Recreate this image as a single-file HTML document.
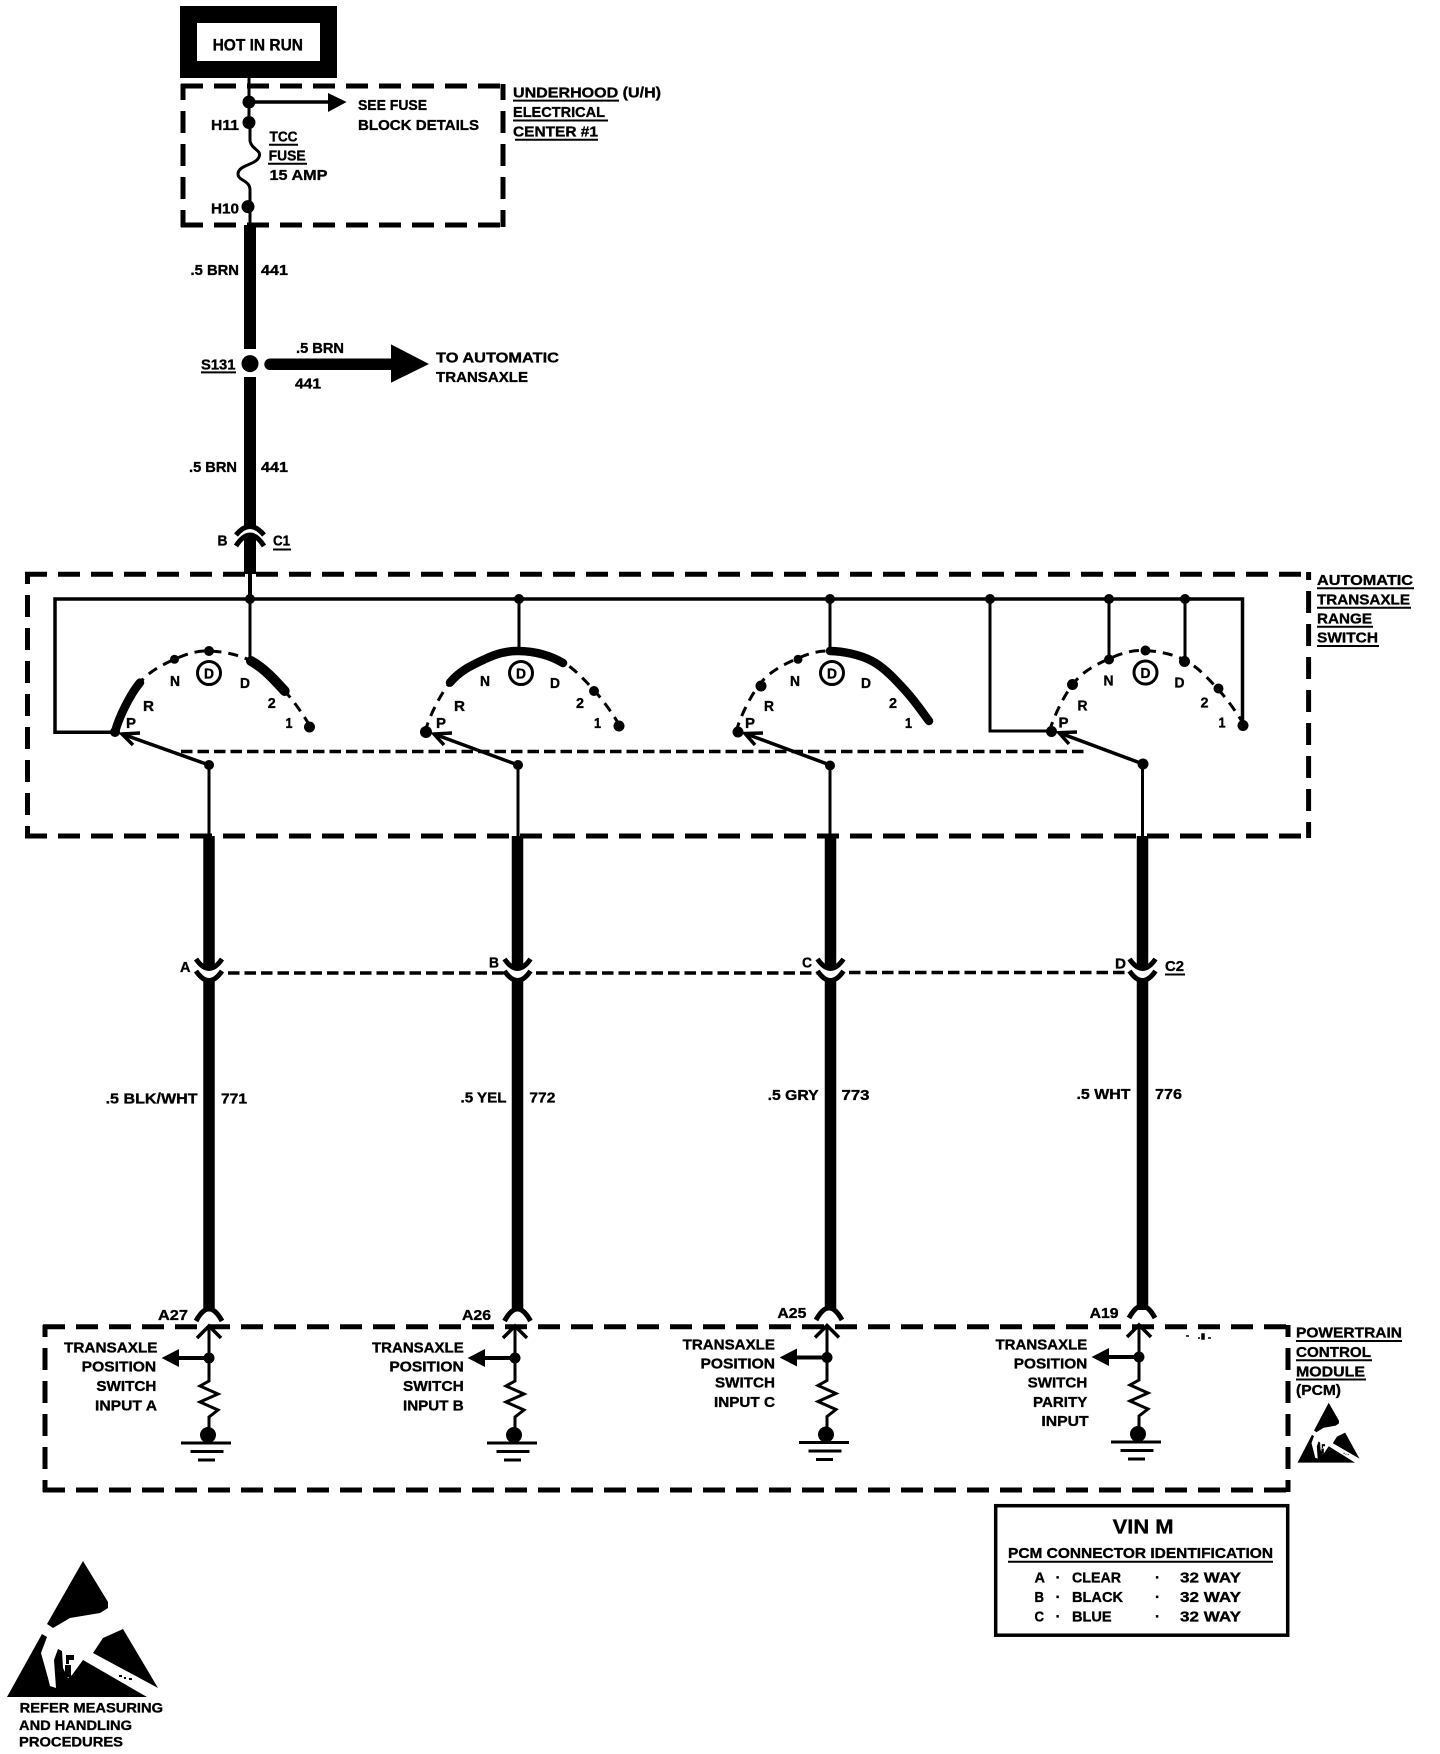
<!DOCTYPE html>
<html><head><meta charset="utf-8"><style>
html,body{margin:0;padding:0;background:#fff}
svg{display:block}
text{font-family:"Liberation Sans",sans-serif;font-weight:bold;font-size:15px;fill:#000;stroke:#000;stroke-width:.35px}
.u{stroke:#000;stroke-width:2;fill:none}
.d{stroke:#000;stroke-width:5;stroke-dasharray:22 11;fill:none}
.w{stroke:#000;stroke-width:12;fill:none}
.t{stroke:#000;stroke-width:3;fill:none}
.arc{stroke:#000;stroke-width:3;stroke-dasharray:10 7;fill:none}
.th{stroke:#000;stroke-width:8.5;fill:none;stroke-linecap:round}
.c{stroke:#000;stroke-width:5;fill:none}
.m{stroke:#000;stroke-width:3.5;stroke-dasharray:11.5 5;fill:none}
</style></head><body>
<svg xmlns="http://www.w3.org/2000/svg" width="1440" height="1754" viewBox="0 0 1440 1754">
<defs>
<path id="full" d="M-94 81C-90 66-79 43.7-69 31.6C-59 19.5-46 13.6-34.5 8.3C-23 3-12.8-.3 0 0C12.8.3 29.4 3.3 42 10C54.6 16.7 65.9 29.2 75.7 40C85.5 50.8 95 65 101 75"/>
<g id="col">
<path class="t" d="M0 1327V1358"/>
<path d="M-12 1338L0 1326L12 1338" stroke="#000" stroke-width="3.5" fill="none"/>
<circle cx="0" cy="1358" r="5.5"/>
<path d="M0 1358H-32" stroke="#000" stroke-width="4"/>
<path d="M-47.4 1358L-30 1349V1367Z"/>
<path class="t" d="M0 1358V1381L-9 1386L9 1394L-9 1402L9 1410L0 1417V1435"/>
<ellipse cx="-1" cy="1435" rx="8" ry="8"/>
<path d="M-28 1443H22M-18.5 1451.5H14.5M-11 1460H6" stroke="#000" stroke-width="3"/>
</g>
<g id="esd">
<path d="M83 1561L108 1602L108 1608L100 1613L70 1618L53 1628L47 1624Z"/>
<path d="M42 1634L47 1637L41 1653L48 1678L50 1686L56 1688L54 1660L58 1649L62 1651L63 1668L68 1678L72 1675L83 1660L147 1697L7 1697Z"/>
<path d="M66 1655H74V1660H69V1664H66ZM65 1665H71V1677H65Z"/>
<path d="M123 1629L158 1688L93 1653L103 1638Z"/>
<path d="M119 1675h3v2h-3zM124 1677h2v2h-2zM129 1678h3v2h-3z"/>
</g>
</defs>

<!-- HOT IN RUN -->
<rect x="188.5" y="14.5" width="140" height="55" fill="#fff" stroke="#000" stroke-width="17"/>
<text x="212.6" y="50.5" textLength="90.4" lengthAdjust="spacingAndGlyphs" style="font-size:16.5px">HOT IN RUN</text>
<path class="t" d="M249 78V128"/>
<path class="t" d="M250 128V141C252 150 262 150 259 157C256 165 238 165 238 174C238 181 250 180 250 190V225"/>

<!-- Underhood box -->
<path class="d" d="M181 86H503" />
<path class="d" d="M181 225H503" />
<path class="d" style="stroke-dashoffset:6" d="M183 84V227"/>
<path class="d" style="stroke-dashoffset:6" d="M503 84V227"/>
<circle cx="249" cy="102" r="6.5"/><circle cx="249" cy="122.5" r="6.5"/><circle cx="248" cy="206.6" r="6.5"/>
<path d="M249 102H330" stroke="#000" stroke-width="3.5"/>
<path d="M346.6 102L328 93V112Z"/>
<text x="358" y="110" textLength="69" lengthAdjust="spacingAndGlyphs">SEE FUSE</text>
<text x="358" y="130" textLength="121" lengthAdjust="spacingAndGlyphs">BLOCK DETAILS</text>
<text x="211" y="130" textLength="28" lengthAdjust="spacingAndGlyphs">H11</text>
<text x="211" y="213.5" textLength="28" lengthAdjust="spacingAndGlyphs">H10</text>
<text x="269.5" y="141.6" textLength="28" lengthAdjust="spacingAndGlyphs">TCC</text><path class="u" d="M269 144.7H298"/>
<text x="268.6" y="160.7" textLength="37" lengthAdjust="spacingAndGlyphs">FUSE</text><path class="u" d="M268 163.8H307"/>
<text x="269.5" y="180" textLength="58" lengthAdjust="spacingAndGlyphs">15 AMP</text>
<text x="513" y="97.6" textLength="148" lengthAdjust="spacingAndGlyphs">UNDERHOOD (U/H)</text><path class="u" d="M513 100.6H619"/>
<text x="513" y="117" textLength="92" lengthAdjust="spacingAndGlyphs">ELECTRICAL</text><path class="u" d="M513 120.5H608"/>
<text x="513" y="136.6" textLength="85" lengthAdjust="spacingAndGlyphs">CENTER #1</text><path class="u" d="M515 139.7H598"/>

<!-- Main feed -->
<path class="w" d="M250 225V349"/>
<ellipse cx="250" cy="363.6" rx="8.5" ry="8.5"/>
<path class="w" d="M250 377V528"/>
<path d="M270 364.3H392" stroke="#000" stroke-width="11.5" stroke-linecap="round"/>
<path d="M429 364L391 344.4V382.7Z"/>
<text x="190.5" y="275" textLength="48.5" lengthAdjust="spacingAndGlyphs">.5 BRN</text>
<text x="261" y="275" textLength="27" lengthAdjust="spacingAndGlyphs">441</text>
<text x="201" y="369.3" textLength="34.5" lengthAdjust="spacingAndGlyphs">S131</text><path class="u" d="M201 372.4H236"/>
<text x="296" y="353" textLength="48" lengthAdjust="spacingAndGlyphs">.5 BRN</text>
<text x="295" y="388.4" textLength="26" lengthAdjust="spacingAndGlyphs">441</text>
<text x="436" y="362.4" textLength="123" lengthAdjust="spacingAndGlyphs">TO AUTOMATIC</text>
<text x="436" y="382" textLength="92" lengthAdjust="spacingAndGlyphs">TRANSAXLE</text>
<text x="189" y="472" textLength="48" lengthAdjust="spacingAndGlyphs">.5 BRN</text>
<text x="261" y="472" textLength="27" lengthAdjust="spacingAndGlyphs">441</text>
<path class="c" d="M236 535Q250 518 264 535"/>
<path class="c" d="M236 546Q250 524 264 546"/>
<path class="w" d="M250 537V574"/>
<path d="M250 574V599" stroke="#000" stroke-width="4" fill="none"/>
<text x="217.5" y="545.5" textLength="10" lengthAdjust="spacingAndGlyphs">B</text>
<text x="273" y="545.5" textLength="17" lengthAdjust="spacingAndGlyphs">C1</text><path class="u" d="M273 549.5H291"/>

<!-- Switch box -->
<path class="d" d="M25 574.3H1311"/>
<path class="d" d="M25 836H1311"/>
<path class="d" style="stroke-dashoffset:10" d="M27.5 572V838"/>
<path class="d" style="stroke-dashoffset:14" d="M1308.6 572V838"/>
<text x="1317" y="585" textLength="96" lengthAdjust="spacingAndGlyphs">AUTOMATIC</text><path class="u" d="M1317 588.3H1414"/>
<text x="1317" y="604.3" textLength="93" lengthAdjust="spacingAndGlyphs">TRANSAXLE</text><path class="u" d="M1317 607.7H1411"/>
<text x="1317" y="623.3" textLength="55" lengthAdjust="spacingAndGlyphs">RANGE</text><path class="u" d="M1317 626.7H1373"/>
<text x="1317" y="642.7" textLength="61" lengthAdjust="spacingAndGlyphs">SWITCH</text><path class="u" d="M1317 646H1379"/>

<!-- Bus -->
<path d="M112 732.3H55V599H1242.5V726" fill="none" stroke="#000" stroke-width="3.5"/>
<path d="M990 599V731H1052" fill="none" stroke="#000" stroke-width="3"/>
<path d="M250 599V662M519 599V651M830 599V651M1109 599V660M1185 599V662" stroke="#000" stroke-width="3" fill="none"/>
<g><circle cx="250" cy="599" r="5"/><circle cx="519" cy="599" r="5"/><circle cx="830" cy="599" r="5"/><circle cx="990" cy="599" r="5"/><circle cx="1109" cy="599" r="5"/><circle cx="1185" cy="599" r="5"/></g>

<!-- Mechanical link -->
<path class="m" d="M181 751.5H1087"/>

<!-- Selector 1 -->
<g transform="translate(209 651)">
<use href="#full" class="arc"/>
<path class="th" d="M-94 81C-90 66-79 43.7-69 31.6"/>
<path class="th" style="stroke-width:10" d="M42 10C54.6 16.7 65.9 29.2 75.7 40"/>
<circle cx="-34.5" cy="8.3" r="4.5"/><circle cx="0" cy="0" r="5"/><circle cx="100.5" cy="76" r="5.5"/><circle cx="-94" cy="81" r="5"/>
<text x="-83" y="77" textLength="10" lengthAdjust="spacingAndGlyphs">P</text>
<text x="-66" y="60" textLength="11" lengthAdjust="spacingAndGlyphs">R</text>
<text x="-39" y="35" textLength="10" lengthAdjust="spacingAndGlyphs">N</text>
<text x="31" y="37" textLength="10" lengthAdjust="spacingAndGlyphs">D</text>
<text x="58.7" y="57" textLength="8" lengthAdjust="spacingAndGlyphs">2</text>
<text x="76.5" y="77" textLength="7" lengthAdjust="spacingAndGlyphs">1</text>
<circle cx="0" cy="22" r="11.5" fill="none" stroke="#000" stroke-width="3"/>
<text x="-5" y="27.5" textLength="10" lengthAdjust="spacingAndGlyphs">D</text>
</g>
<!-- Selector 2 -->
<g transform="translate(519 651)">
<use href="#full" class="arc"/>
<path class="th" d="M-69 31.6C-59 19.5-46 13.6-34.5 8.3C-23 3-12.8-.3 0 0C12.8.3 29.4 3.3 44 12"/>
<circle cx="75" cy="40" r="5"/><circle cx="100" cy="75" r="5.5"/><circle cx="-93" cy="81" r="6"/>
<text x="-83" y="77" textLength="10" lengthAdjust="spacingAndGlyphs">P</text>
<text x="-65" y="60" textLength="11" lengthAdjust="spacingAndGlyphs">R</text>
<text x="-39" y="35" textLength="10" lengthAdjust="spacingAndGlyphs">N</text>
<text x="31" y="37" textLength="10" lengthAdjust="spacingAndGlyphs">D</text>
<text x="57" y="57" textLength="8" lengthAdjust="spacingAndGlyphs">2</text>
<text x="75" y="77" textLength="7" lengthAdjust="spacingAndGlyphs">1</text>
<circle cx="2" cy="22" r="11.5" fill="none" stroke="#000" stroke-width="3"/>
<text x="-3" y="27.5" textLength="10" lengthAdjust="spacingAndGlyphs">D</text>
</g>
<!-- Selector 3 -->
<g transform="translate(830 651)">
<path class="arc" d="M-94 81C-90 66-79 43.7-69 31.6C-59 19.5-46 13.6-34.5 8.3C-23 3-12.8-.3 0 0"/>
<path class="th" d="M0 0C12.8.3 29.4 3.3 42 10C54.6 16.7 65.9 29.2 75.7 40C85.5 50.8 93 62 99 70"/>
<circle cx="-32" cy="8.3" r="4.5"/><circle cx="-69" cy="35" r="5.5"/><circle cx="-92" cy="81" r="5.5"/>
<text x="-85" y="77" textLength="10" lengthAdjust="spacingAndGlyphs">P</text>
<text x="-66" y="60" textLength="10" lengthAdjust="spacingAndGlyphs">R</text>
<text x="-40" y="35" textLength="10" lengthAdjust="spacingAndGlyphs">N</text>
<text x="31" y="37" textLength="10" lengthAdjust="spacingAndGlyphs">D</text>
<text x="59" y="57" textLength="8" lengthAdjust="spacingAndGlyphs">2</text>
<text x="75" y="77" textLength="7" lengthAdjust="spacingAndGlyphs">1</text>
<circle cx="2" cy="22" r="11.5" fill="none" stroke="#000" stroke-width="3"/>
<text x="-3" y="27.5" textLength="10" lengthAdjust="spacingAndGlyphs">D</text>
</g>
<!-- Selector 4 -->
<g transform="translate(1143.5 650.5)">
<use href="#full" class="arc"/>
<circle cx="-34.5" cy="9" r="5"/><circle cx="-71" cy="34" r="5.5"/><circle cx="2" cy="0" r="5"/><circle cx="41" cy="11" r="5.5"/><circle cx="75" cy="38" r="5"/><circle cx="99.5" cy="75" r="5.5"/><circle cx="-92" cy="81" r="5.5"/>
<text x="-85" y="77" textLength="10" lengthAdjust="spacingAndGlyphs">P</text>
<text x="-66" y="60" textLength="10" lengthAdjust="spacingAndGlyphs">R</text>
<text x="-40" y="35" textLength="10" lengthAdjust="spacingAndGlyphs">N</text>
<text x="31" y="37" textLength="10" lengthAdjust="spacingAndGlyphs">D</text>
<text x="57" y="57" textLength="8" lengthAdjust="spacingAndGlyphs">2</text>
<text x="75" y="77" textLength="7" lengthAdjust="spacingAndGlyphs">1</text>
<circle cx="2" cy="22" r="11.5" fill="none" stroke="#000" stroke-width="3"/>
<text x="-3" y="27.5" textLength="10" lengthAdjust="spacingAndGlyphs">D</text>
</g>

<!-- Wipers -->
<g stroke="#000" stroke-width="3.5" fill="none">
<path d="M209 765L122 734"/><path d="M133 745L122 734L140 733"/>
<path d="M518 765L434 734"/><path d="M444 745L434 734L452 733"/>
<path d="M830 765L745 733.5"/><path d="M755 745L745 733.5L763 733"/>
<path d="M1143 764L1059 732.7"/><path d="M1069 744L1059 732.7L1077 732"/>
</g>
<circle cx="209" cy="765" r="5"/><circle cx="518" cy="765" r="5"/><circle cx="830" cy="765.5" r="5"/><circle cx="1143" cy="764" r="5.5"/>
<path class="t" d="M209 765V836M518 765V836M830 765V836M1142.5 765V836"/>

<!-- Vertical wires -->
<g stroke="#000" stroke-width="11.5" fill="none">
<path d="M209 836V968M209 980V1310"/>
<path d="M517.5 836V968M517.5 980V1310"/>
<path d="M830.5 836V968M830.5 980V1310"/>
<path d="M1142.5 836V968M1142.5 980V1310"/>
</g>
<!-- C2 connectors -->
<g stroke="#000" stroke-width="5" fill="none">
<path d="M196 959Q209 978 222 959M196 971Q209 990 222 971"/>
<path d="M504.5 959Q517.5 978 530.5 959M504.5 971Q517.5 990 530.5 971"/>
<path d="M817.5 959Q830.5 978 843.5 959M817.5 971Q830.5 990 843.5 971"/>
<path d="M1129.5 959Q1142.5 978 1155.5 959M1129.5 971Q1142.5 990 1155.5 971"/>
</g>
<path class="m" d="M228 973H505M536 973H818M849 972.5H1130"/>
<text x="180" y="972" textLength="10.5" lengthAdjust="spacingAndGlyphs">A</text>
<text x="489" y="967.7" textLength="10" lengthAdjust="spacingAndGlyphs">B</text>
<text x="802" y="967.7" textLength="10" lengthAdjust="spacingAndGlyphs">C</text>
<text x="1115" y="968.5" textLength="11" lengthAdjust="spacingAndGlyphs">D</text>
<text x="1165" y="971" textLength="19" lengthAdjust="spacingAndGlyphs">C2</text><path class="u" d="M1165 974.5H1185"/>
<text x="105.6" y="1103.3" textLength="92" lengthAdjust="spacingAndGlyphs">.5 BLK/WHT</text>
<text x="221" y="1103.3" textLength="26" lengthAdjust="spacingAndGlyphs">771</text>
<text x="460.5" y="1102.7" textLength="46" lengthAdjust="spacingAndGlyphs">.5 YEL</text>
<text x="529.4" y="1102.7" textLength="26" lengthAdjust="spacingAndGlyphs">772</text>
<text x="767.6" y="1100" textLength="51" lengthAdjust="spacingAndGlyphs">.5 GRY</text>
<text x="841.5" y="1100" textLength="28" lengthAdjust="spacingAndGlyphs">773</text>
<text x="1076.5" y="1099" textLength="54" lengthAdjust="spacingAndGlyphs">.5 WHT</text>
<text x="1155" y="1099" textLength="27" lengthAdjust="spacingAndGlyphs">776</text>

<!-- PCM connector tops -->
<g stroke="#000" stroke-width="5" fill="none">
<path d="M196 1321Q209 1297 222 1321"/>
<path d="M504.5 1321Q517.5 1297 530.5 1321"/>
<path d="M816 1320Q829 1296 842 1320"/>
<path d="M1129 1318Q1142 1294 1155 1318"/>
</g>
<text x="158" y="1320" textLength="30" lengthAdjust="spacingAndGlyphs">A27</text>
<text x="462" y="1320" textLength="29" lengthAdjust="spacingAndGlyphs">A26</text>
<text x="777.4" y="1318" textLength="29" lengthAdjust="spacingAndGlyphs">A25</text>
<text x="1089.6" y="1318" textLength="29" lengthAdjust="spacingAndGlyphs">A19</text>

<!-- PCM box -->
<path class="d" d="M43 1326.7H1290"/>
<path class="d" d="M43 1490H1290"/>
<path class="d" style="stroke-dashoffset:10" d="M45 1325V1492"/>
<path class="d" style="stroke-dashoffset:10" d="M1288 1325V1492"/>
<text x="1296" y="1337.7" textLength="106" lengthAdjust="spacingAndGlyphs">POWERTRAIN</text><path class="u" d="M1296 1341H1402"/>
<text x="1296" y="1357" textLength="75" lengthAdjust="spacingAndGlyphs">CONTROL</text><path class="u" d="M1296 1360.3H1372"/>
<text x="1296" y="1376.7" textLength="69" lengthAdjust="spacingAndGlyphs">MODULE</text><path class="u" d="M1296 1379.5H1366"/>
<text x="1296" y="1395" textLength="45" lengthAdjust="spacingAndGlyphs">(PCM)</text>
<use href="#esd" transform="translate(1294.7 715.9) scale(.41 .44)"/>

<!-- Columns in PCM -->
<use href="#col" x="209"/>
<use href="#col" x="515"/>
<use href="#col" x="827" y="-0.5"/>
<use href="#col" x="1139" y="-1"/>
<path d="M1186 1336h3M1198 1338h2M1202 1334h2v5h-2zM1208 1338h3" stroke="#000" stroke-width="1.5"/>

<text x="64" y="1352.3" textLength="93.5" lengthAdjust="spacingAndGlyphs">TRANSAXLE</text>
<text x="81.7" y="1371.7" textLength="74.5" lengthAdjust="spacingAndGlyphs">POSITION</text>
<text x="96.4" y="1391" textLength="60" lengthAdjust="spacingAndGlyphs">SWITCH</text>
<text x="95" y="1410.7" textLength="62" lengthAdjust="spacingAndGlyphs">INPUT A</text>

<text x="372" y="1352.3" textLength="91.7" lengthAdjust="spacingAndGlyphs">TRANSAXLE</text>
<text x="389.4" y="1371.7" textLength="74.3" lengthAdjust="spacingAndGlyphs">POSITION</text>
<text x="403" y="1391" textLength="60.7" lengthAdjust="spacingAndGlyphs">SWITCH</text>
<text x="403" y="1410.7" textLength="60.7" lengthAdjust="spacingAndGlyphs">INPUT B</text>

<text x="682.6" y="1349.3" textLength="92.4" lengthAdjust="spacingAndGlyphs">TRANSAXLE</text>
<text x="700.5" y="1368.7" textLength="74.5" lengthAdjust="spacingAndGlyphs">POSITION</text>
<text x="715" y="1387.7" textLength="60" lengthAdjust="spacingAndGlyphs">SWITCH</text>
<text x="714" y="1407" textLength="61" lengthAdjust="spacingAndGlyphs">INPUT C</text>

<text x="995.5" y="1349.3" textLength="91.8" lengthAdjust="spacingAndGlyphs">TRANSAXLE</text>
<text x="1013.8" y="1368.7" textLength="73.5" lengthAdjust="spacingAndGlyphs">POSITION</text>
<text x="1027.6" y="1387.7" textLength="59.7" lengthAdjust="spacingAndGlyphs">SWITCH</text>
<text x="1033" y="1407" textLength="54.3" lengthAdjust="spacingAndGlyphs">PARITY</text>
<text x="1041.4" y="1426" textLength="47.3" lengthAdjust="spacingAndGlyphs">INPUT</text>

<!-- VIN box -->
<rect x="995.7" y="1505.7" width="292" height="129.5" fill="none" stroke="#000" stroke-width="3.5"/>
<text x="1112.6" y="1533.3" textLength="61" lengthAdjust="spacingAndGlyphs" style="font-size:20px">VIN M</text>
<text x="1008" y="1558" textLength="265" lengthAdjust="spacingAndGlyphs">PCM CONNECTOR IDENTIFICATION</text><path class="u" d="M1008 1561.7H1273"/>
<text x="1034.5" y="1582.7" textLength="10.5" lengthAdjust="spacingAndGlyphs">A</text>
<text x="1055.5" y="1582.7">·</text>
<text x="1072" y="1582.7" textLength="49" lengthAdjust="spacingAndGlyphs">CLEAR</text>
<text x="1155" y="1582.7">·</text>
<text x="1180" y="1582.7" textLength="61" lengthAdjust="spacingAndGlyphs">32 WAY</text>
<text x="1034.5" y="1602" textLength="9.5" lengthAdjust="spacingAndGlyphs">B</text>
<text x="1055.5" y="1602">·</text>
<text x="1072" y="1602" textLength="51" lengthAdjust="spacingAndGlyphs">BLACK</text>
<text x="1155" y="1602">·</text>
<text x="1180" y="1602" textLength="61" lengthAdjust="spacingAndGlyphs">32 WAY</text>
<text x="1034.5" y="1621.3" textLength="9.5" lengthAdjust="spacingAndGlyphs">C</text>
<text x="1055.5" y="1621.3">·</text>
<text x="1072" y="1621.3" textLength="39.6" lengthAdjust="spacingAndGlyphs">BLUE</text>
<text x="1155" y="1621.3">·</text>
<text x="1180" y="1621.3" textLength="61" lengthAdjust="spacingAndGlyphs">32 WAY</text>

<!-- ESD large -->
<use href="#esd"/>
<text x="19.7" y="1712.3" textLength="143.3" lengthAdjust="spacingAndGlyphs" style="font-size:14px">REFER MEASURING</text>
<text x="19" y="1730" textLength="113" lengthAdjust="spacingAndGlyphs" style="font-size:14px">AND HANDLING</text>
<text x="19" y="1746.7" textLength="104" lengthAdjust="spacingAndGlyphs" style="font-size:14px">PROCEDURES</text>
</svg>
</body></html>
